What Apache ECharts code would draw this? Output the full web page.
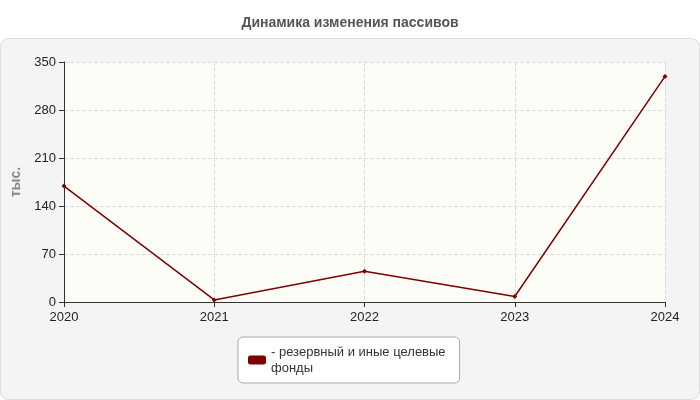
<!DOCTYPE html>
<html>
<head>
<meta charset="utf-8" />
<title>Динамика изменения пассивов</title>
<script src="https://cdn.jsdelivr.net/npm/echarts@6/dist/echarts.min.js"></script>
<style>html,body{margin:0;padding:0;background:#fff}</style>
</head>
<body>
<div id="chart" style="width:700px;height:400px;"></div>
<script type="text/javascript">
  var years = ['2020', '2021', '2022', '2023', '2024'];
  var seriesName = 'резервный и иные целевые фонды';
  var values = [169, 3, 45, 8, 329];
  var yTicks = [0, 70, 140, 210, 280, 350];

  var myChart = echarts.init(document.getElementById('chart'));
  var option = {
    animation: false,
    textStyle: { fontFamily: 'Arial, Liberation Sans, sans-serif' },
    title: {
      text: 'Динамика изменения пассивов',
      left: 'center',
      top: 11,
      textStyle: { fontSize: 14, fontWeight: 'bold', color: '#555' }
    },
    graphic: [{
      type: 'rect',
      shape: { x: 0.5, y: 38.5, width: 699, height: 361, r: 8 },
      style: { fill: '#f4f4f4', stroke: '#dcdcdc' },
      z: -10
    }],
    legend: {
      data: [seriesName],
      left: 238,
      top: 337,
      padding: [7, 14, 7, 10],
      backgroundColor: '#fff',
      borderColor: '#aaa',
      borderWidth: 1,
      borderRadius: 5,
      icon: 'roundRect',
      itemWidth: 18,
      itemHeight: 9,
      itemGap: 2,
      formatter: function () { return '- резервный и иные целевые\nфонды'; },
      textStyle: { fontSize: 13, color: '#333', lineHeight: 16 }
    },
    grid: {
      left: 64, right: 35, top: 62, bottom: 98,
      show: true, backgroundColor: '#fdfdf7', borderWidth: 0
    },
    xAxis: {
      type: 'category',
      boundaryGap: false,
      data: years,
      axisLine: { lineStyle: { color: '#333' } },
      axisTick: { show: true, alignWithLabel: true, lineStyle: { color: '#333' } },
      axisLabel: { color: '#222', fontSize: 13, margin: 9 },
      splitLine: { show: true, lineStyle: { color: '#ddd', type: 'dashed' } }
    },
    yAxis: {
      type: 'value',
      min: yTicks[0],
      max: yTicks[yTicks.length - 1],
      interval: 70,
      name: 'тыс.',
      nameLocation: 'middle',
      nameGap: 40,
      nameTextStyle: { color: '#888', fontSize: 14, fontWeight: 'bold' },
      axisLine: { show: true, lineStyle: { color: '#333' } },
      axisTick: { show: true, lineStyle: { color: '#333' } },
      axisLabel: { color: '#222', fontSize: 13 },
      splitLine: { lineStyle: { color: '#ddd', type: 'dashed' } }
    },
    series: [{
      name: seriesName,
      type: 'line',
      data: values,
      symbol: 'diamond',
      symbolSize: 5,
      itemStyle: { color: '#800000' },
      lineStyle: { color: '#800000', width: 1.5 }
    }]
  };
  myChart.setOption(option);
</script>
</body>
</html>
